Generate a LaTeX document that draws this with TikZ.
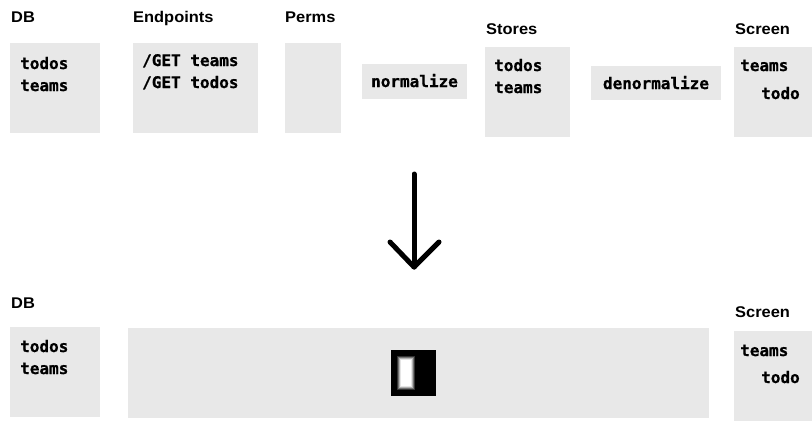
\documentclass[tikz,border=0pt]{standalone}
\usepackage{fontspec}
\newfontfamily\lblfont{Liberation Sans}[FakeStretch=1.06]
\newfontfamily\monofont{DejaVu Sans Mono}[BoldFeatures={FakeBold=0.8}]
\definecolor{boxgray}{HTML}{E8E8E8}
\begin{document}
\begin{tikzpicture}[x=1pt,y=-1pt,
  box/.style={fill=boxgray,draw=none,inner sep=0pt,anchor=north west},
  lbl/.style={font=\lblfont\bfseries\fontsize{15.5}{18}\selectfont,inner sep=0pt,anchor=base west},
  code/.style={font=\monofont\bfseries\fontsize{16}{22}\selectfont,inner sep=0pt,anchor=base west},
  ctext/.style={font=\monofont\bfseries\fontsize{16}{22}\selectfont,inner sep=0pt},
]
\useasboundingbox (0,0) rectangle (812,421);
\fill[white] (0,0) rectangle (812,421);

% ---------- top row ----------
\node[lbl] (dbl) at (11,22) {DB};
\node[box,minimum width=90pt,minimum height=90pt] (db) at (10,43) {};
\node[code] (dbt1) at (20,69) {todos};
\node[code] (dbt2) at (20,91) {teams};

\node[lbl] (epl) at (133,22) {Endpoints};
\node[box,minimum width=125pt,minimum height=90pt] (ep) at (133,43) {};
\node[code] (ept1) at (142,66) {/GET teams};
\node[code] (ept2) at (142,88) {/GET todos};

\node[lbl] (pml) at (285,22) {Perms};
\node[box,minimum width=56pt,minimum height=90pt] (pm) at (285,43) {};

\node[box,minimum width=105pt,minimum height=35pt] (norm) at (362,64) {};
\node[ctext,anchor=base] (normt) at (414.5,87) {normalize};

\node[lbl] (stl) at (486,34) {Stores};
\node[box,minimum width=85pt,minimum height=90pt] (st) at (485,47) {};
\node[code] (stt1) at (494,71) {todos};
\node[code] (stt2) at (494,93) {teams};

\node[box,minimum width=130pt,minimum height=34pt] (denorm) at (591,66) {};
\node[ctext,anchor=base] (denormt) at (656,89) {denormalize};

\node[lbl] (scl) at (735,34) {Screen};
\node[box,minimum width=78pt,minimum height=90pt] (sc) at (734,47) {};
\node[code] (sct1) at (740,71) {teams};
\node[code] (sct2) at (761,99) {todo};

% ---------- arrow ----------
\coordinate (atop) at (414,174);
\coordinate (atip) at (414,267);
\coordinate (aleft) at (390,242);
\coordinate (aright) at (439,242);
\draw[line width=5pt,line cap=round,line join=round] (atop) -- (atip);
\draw[line width=5pt,line cap=round,line join=round] (aleft) -- (atip) -- (aright);

% ---------- bottom row ----------
\node[lbl] (bdbl) at (11,308) {DB};
\node[box,minimum width=90pt,minimum height=90pt] (bdb) at (10,327) {};
\node[code] (bdbt1) at (20,352) {todos};
\node[code] (bdbt2) at (20,374) {teams};

\node[box,minimum width=581pt,minimum height=90pt] (mid) at (128,328) {};
\node[fill=black,draw=none,inner sep=0pt,minimum width=45pt,minimum height=46pt,anchor=north west] (blk) at (391,350) {};
\fill[white!20!black] (397,356) rectangle (415,390);
\fill[white!45!black] (398,357) rectangle (414,389);
\fill[white!70!black] (399,358) rectangle (413,388);
\fill[white!90!black] (400,359) rectangle (412,387);
\fill[white] (401,360) rectangle (411,386);

\node[lbl] (bscl) at (735,317) {Screen};
\node[box,minimum width=78pt,minimum height=90pt] (bsc) at (734,331) {};
\node[code] (bsct1) at (740,356) {teams};
\node[code] (bsct2) at (761,383) {todo};
\end{tikzpicture}
\end{document}
